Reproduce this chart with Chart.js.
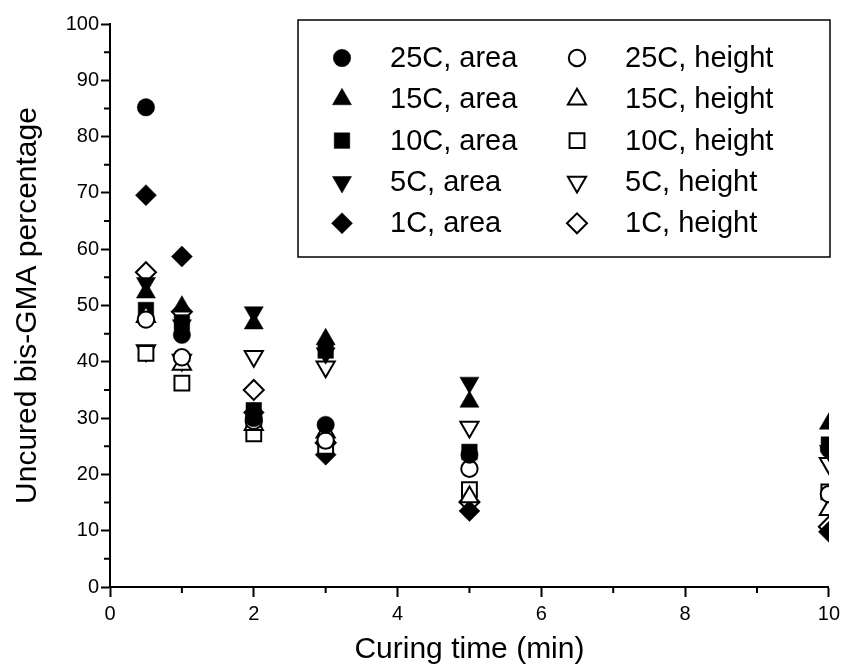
<!DOCTYPE html>
<html><head><meta charset="utf-8">
<script src="https://cdn.jsdelivr.net/npm/chart.js@4"></script>
<style>html,body{margin:0;padding:0;background:#fff}</style>
</head><body>
<canvas id="c" width="845" height="672"></canvas>
<script>
// ---- data ----
const times = [0.5, 1, 2, 3, 5, 10];
const area25   = [85.2, 44.8, 30.0, 28.8, 23.5, 24.5];
const height25 = [47.5, 40.8, 29.5, 26.0, 21.0, 16.5];
const area15   = [52.3, 49.8, 46.8, 44.0, 32.9, 29.0];
const height15 = [48.0, 39.5, 28.8, 27.5, 16.0, 13.7];
const area10   = [49.2, 47.0, 31.4, 42.0, 24.0, 25.3];
const height10 = [41.5, 36.2, 27.2, 25.0, 17.3, 16.9];
const area5    = [54.0, 46.5, 48.8, 41.5, 36.3, 24.2];
const height5  = [42.0, 40.3, 41.0, 39.1, 28.4, 22.0];
const area1    = [69.6, 58.7, 31.0, 23.5, 13.5, 9.8];
const height1  = [55.9, 48.9, 35.0, 25.6, 15.1, 10.7];

const seriesLabels = ['25C, area','25C, height','15C, area','15C, height','10C, area','10C, height','5C, area','5C, height','1C, area','1C, height'];
const seriesValues = [area25,height25,area15,height15,area10,height10,area5,height5,area1,height1];
const seriesStyles = ['circle','circle','triangle','triangle','rect','rect','triangle','triangle','rectRot','rectRot'];
const seriesRot    = [0,0,0,0,0,0,180,180,0,0];
const seriesFilled = [true,false,true,false,true,false,true,false,true,false];
const seriesRadius = [8.7,8.2,11,10.5,11,10.5,11,10.5,10.5,10];

const xMajor = [0,2,4,6,8,10];
const xMinor = [1,3,5,7,9];
const yMinor = [5,15,25,35,45,55,65,75,85,95];

const FONT = "'Liberation Sans', Arial, Helvetica, sans-serif";

const datasets = seriesLabels.map((lab, i) => ({
  label: lab,
  data: times.map((t, j) => ({x: t, y: seriesValues[i][j]})),
  showLine: false,
  pointStyle: seriesStyles[i],
  pointRotation: seriesRot[i],
  pointRadius: seriesRadius[i],
  pointHoverRadius: seriesRadius[i],
  pointBackgroundColor: seriesFilled[i] ? '#000' : '#fff',
  pointBorderColor: '#000',
  pointBorderWidth: seriesFilled[i] ? 0.5 : 2
}));

const minorTicks = {
  id: 'minorTicks',
  afterDraw(chart) {
    const ctx = chart.ctx, xs = chart.scales.x, ys = chart.scales.y;
    ctx.save();
    ctx.strokeStyle = '#000'; ctx.lineWidth = 2;
    ctx.beginPath();
    xMinor.forEach(v => { const p = xs.getPixelForValue(v); ctx.moveTo(p, xs.top); ctx.lineTo(p, xs.top + 6); });
    yMinor.forEach(v => { const p = ys.getPixelForValue(v); ctx.moveTo(ys.right, p); ctx.lineTo(ys.right - 6, p); });
    ctx.stroke();
    ctx.restore();
  }
};

const boxLegend = {
  id: 'boxLegend',
  afterDraw(chart) {
    const ctx = chart.ctx;
    const L = 298, T = 20, R = 830, B = 257;
    ctx.save();
    ctx.fillStyle = '#fff';
    ctx.fillRect(L, T, R - L, B - T);
    ctx.strokeStyle = '#000'; ctx.lineWidth = 1.5;
    ctx.strokeRect(L, T, R - L, B - T);
    const rows = [58, 99.3, 140.6, 182, 223.3];
    const markX = [342, 577], textX = [390, 625];
    ctx.font = '29px ' + FONT;
    ctx.textBaseline = 'middle';
    ctx.textAlign = 'left';
    chart.data.datasets.forEach((ds, i) => {
      const r = Math.floor(i / 2), c = i % 2;
      const y = rows[r];
      ctx.fillStyle = ds.pointBackgroundColor;
      ctx.strokeStyle = '#000';
      ctx.lineWidth = ds.pointBorderWidth;
      Chart.helpers.drawPoint(ctx, {pointStyle: ds.pointStyle, rotation: ds.pointRotation, radius: ds.pointRadius, borderWidth: ds.pointBorderWidth}, markX[c], y);
      ctx.fillStyle = '#000';
      ctx.fillText(ds.label, textX[c], y + 1);
    });
    ctx.restore();
  }
};

new Chart(document.getElementById('c'), {
  type: 'scatter',
  data: { datasets },
  options: {
    responsive: false,
    animation: false,
    events: [],
    layout: { padding: { top: 24, right: 14, left: 0, bottom: 0 } },
    plugins: { legend: { display: false }, tooltip: { enabled: false } },
    scales: {
      x: {
        type: 'linear', min: 0, max: 10,
        afterFit(s) { s.height = 85; },
        afterBuildTicks(s) { s.ticks = xMajor.map(v => ({value: v})); },
        border: { display: true, color: '#000', width: 2 },
        grid: { drawOnChartArea: false, drawTicks: true, tickLength: 10, tickColor: '#000', tickWidth: 2 },
        ticks: { color: '#000', font: { size: 20, family: FONT }, padding: 5, maxRotation: 0 },
        title: { display: true, text: 'Curing time (min)', color: '#000', font: { size: 30, family: FONT }, padding: { top: 0, bottom: 4 } }
      },
      y: {
        type: 'linear', min: 0, max: 100,
        afterFit(s) { s.width = 110; },
        border: { display: true, color: '#000', width: 2 },
        grid: { drawOnChartArea: false, drawTicks: true, tickLength: 9, tickColor: '#000', tickWidth: 2 },
        ticks: { stepSize: 10, color: '#000', font: { size: 20, family: FONT }, padding: 2 },
        title: { display: true, text: 'Uncured bis-GMA percentage', color: '#000', font: { size: 30, family: FONT }, padding: { top: 10, bottom: 0 } }
      }
    }
  },
  plugins: [minorTicks, boxLegend]
});
</script>
</body></html>
